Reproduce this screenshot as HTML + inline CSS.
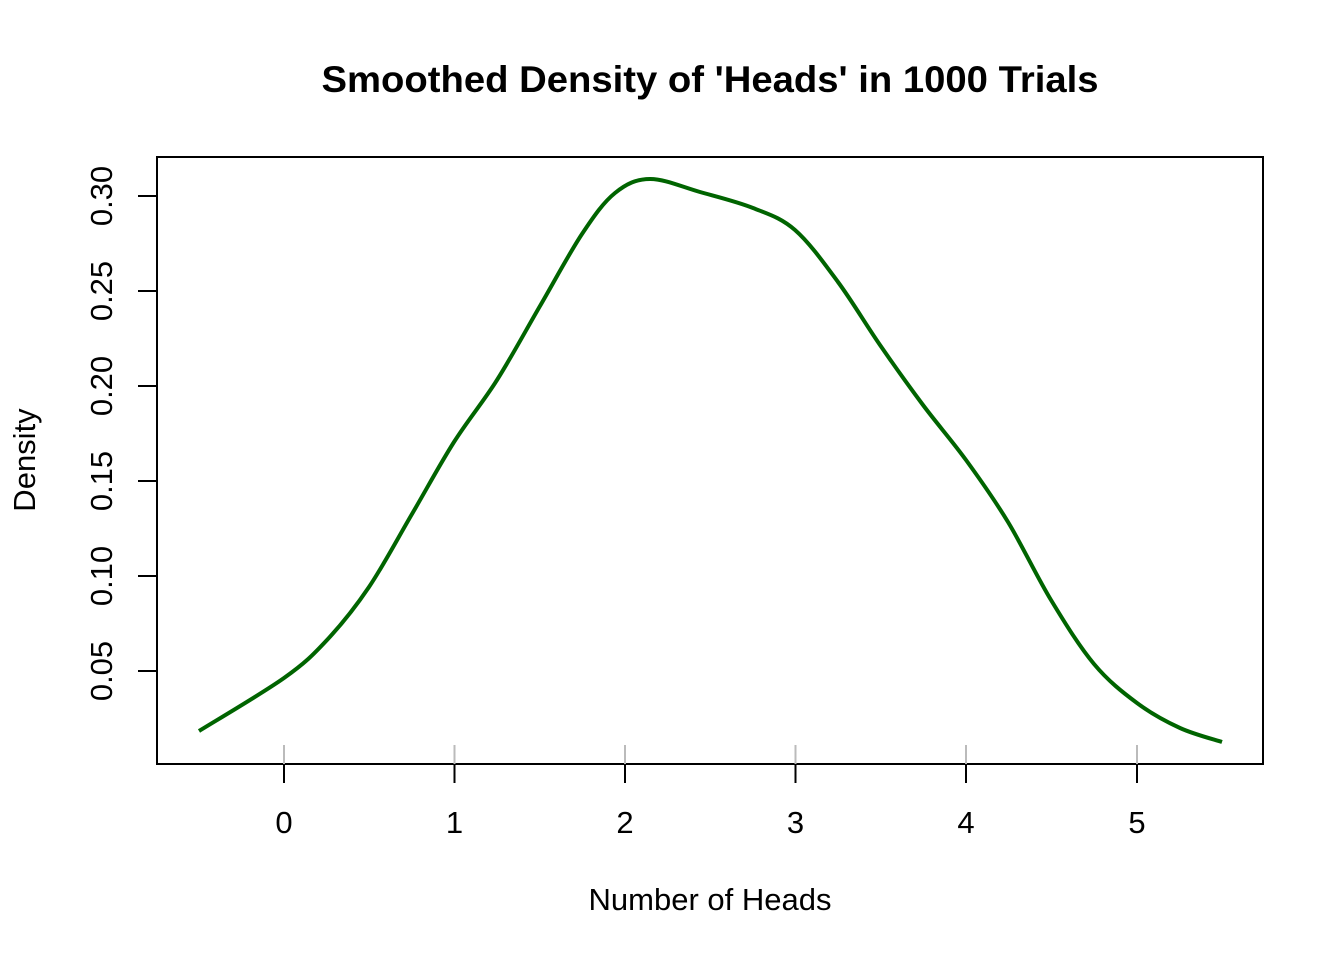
<!DOCTYPE html>
<html><head><meta charset="utf-8"><style>
html,body{margin:0;padding:0;background:#fff;}
svg{display:block;font-family:"Liberation Sans",sans-serif;}
</style></head><body>
<svg id="s" width="1344" height="960" viewBox="0 0 1344 960">
<rect width="1344" height="960" fill="#fff"/>
<text x="710" y="92" text-anchor="middle" font-size="37" font-weight="bold" textLength="777" lengthAdjust="spacingAndGlyphs">Smoothed Density of 'Heads' in 1000 Trials</text>
<rect x="157" y="157" width="1106" height="607" fill="none" stroke="#000" stroke-width="2"/>
<g stroke="#000" stroke-width="2">
<line x1="284" y1="764" x2="284" y2="783"/><line x1="454.5" y1="764" x2="454.5" y2="783"/>
<line x1="625" y1="764" x2="625" y2="783"/><line x1="795.5" y1="764" x2="795.5" y2="783"/>
<line x1="966" y1="764" x2="966" y2="783"/><line x1="1137" y1="764" x2="1137" y2="783"/>
<line x1="157" y1="196" x2="138" y2="196"/><line x1="157" y1="291" x2="138" y2="291"/>
<line x1="157" y1="386" x2="138" y2="386"/><line x1="157" y1="481" x2="138" y2="481"/>
<line x1="157" y1="576" x2="138" y2="576"/><line x1="157" y1="671" x2="138" y2="671"/>
</g>
<g stroke="#bbb" stroke-width="2">
<line x1="284" y1="745" x2="284" y2="764"/><line x1="454.5" y1="745" x2="454.5" y2="764"/>
<line x1="625" y1="745" x2="625" y2="764"/><line x1="795.5" y1="745" x2="795.5" y2="764"/>
<line x1="966" y1="745" x2="966" y2="764"/><line x1="1137" y1="745" x2="1137" y2="764"/>
</g>
<g font-size="31" text-anchor="middle">
<text x="284" y="833">0</text><text x="454.5" y="833">1</text><text x="625" y="833">2</text>
<text x="795.5" y="833">3</text><text x="966" y="833">4</text><text x="1137" y="833">5</text>
<text x="710" y="910">Number of Heads</text>
<text transform="translate(112,196) rotate(-90)">0.30</text>
<text transform="translate(112,291) rotate(-90)">0.25</text>
<text transform="translate(112,386) rotate(-90)">0.20</text>
<text transform="translate(112,481) rotate(-90)">0.15</text>
<text transform="translate(112,576) rotate(-90)">0.10</text>
<text transform="translate(112,671) rotate(-90)">0.05</text>
<text transform="translate(35,460) rotate(-90)">Density</text>
</g>
<path id="c" fill="none" stroke="#006400" stroke-width="4" stroke-linejoin="round"/>
</svg>
<script>
var p=[[199,731],[284,678],[327,640],[369,587],[412,514],[454,442],[497,380],[540,306],[582,234],[615,193],[650,179],[700,192],[753,208],[795,230],[838,282],[880,345],[923,405],[966,460],[1008,522],[1051,600],[1094,664],[1137,703],[1180,728],[1222,742]];
var d="M"+p[0][0]+","+p[0][1];
for(var i=0;i<p.length-1;i++){var a=p[Math.max(i-1,0)],b=p[i],c=p[i+1],e=p[Math.min(i+2,p.length-1)];
d+=" C"+(b[0]+(c[0]-a[0])/6)+","+(b[1]+(c[1]-a[1])/6)+" "+(c[0]-(e[0]-b[0])/6)+","+(c[1]-(e[1]-b[1])/6)+" "+c[0]+","+c[1];}
document.getElementById("c").setAttribute("d",d);
</script>
</body></html>
